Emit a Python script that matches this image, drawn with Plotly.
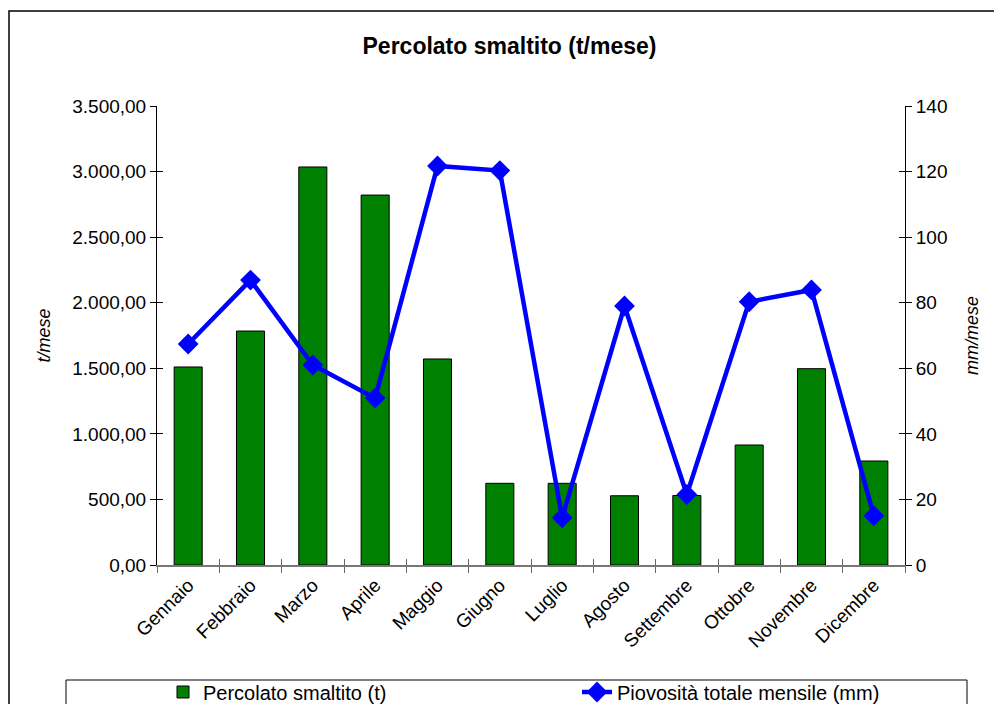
import plotly.graph_objects as go

months = ["Gennaio", "Febbraio", "Marzo", "Aprile", "Maggio", "Giugno",
          "Luglio", "Agosto", "Settembre", "Ottobre", "Novembre", "Dicembre"]
percolato = [1510, 1784, 3035, 2821, 1571, 623, 623, 528, 530, 915, 1497, 793]
piovosita = [67.4, 86.9, 61.0, 50.9, 121.7, 120.3, 14.4, 79.0, 21.5, 80.3, 83.9, 15.0]
left_range = [0, 3500]
right_range = [0, 140]

FONT = "Liberation Sans, Arial, sans-serif"

fig = go.Figure()
fig.add_trace(go.Bar(
    x=months, y=percolato, name="Percolato smaltito (t)",
    marker=dict(color="#008000", line=dict(color="black", width=1)),
    width=0.45, legend="legend",
))
fig.add_trace(go.Scatter(
    x=months, y=piovosita, name="Piovosità totale mensile (mm)", yaxis="y2",
    mode="lines+markers",
    line=dict(color="#0000FF", width=4.5),
    marker=dict(symbol="diamond", size=16, color="#0000FF"),
    legend="legend2",
))

n = len(months)
legend_common = dict(
    orientation="h", xref="container", yref="container",
    y=1 - 692/704, xanchor="left", yanchor="middle",
    font=dict(size=20, family=FONT), bgcolor="rgba(0,0,0,0)",
)
fig.update_layout(
    width=994, height=704,
    margin=dict(l=157, r=89, t=106, b=139),
    paper_bgcolor="white", plot_bgcolor="white",
    font=dict(family=FONT, size=19, color="black"),
    separators=",.",
    title=dict(text="<b>Percolato smaltito (t/mese)</b>", x=509.5/994, xanchor="center",
               y=1 - 46/704, yanchor="middle", font=dict(size=23, family=FONT)),
    xaxis=dict(
        type="category", tickangle=-45, tickson="boundaries",
        ticks="outside", ticklen=6, tickcolor="#666666",
        showline=True, linecolor="#777777", linewidth=1.5,
        showgrid=False, tickfont=dict(size=19, family=FONT),
        range=[-0.5, n - 0.5],
    ),
    xaxis2=dict(
        overlaying="x", type="linear", range=[-0.5, n - 0.5], tick0=-0.5, dtick=1,
        ticks="inside", ticklen=6, tickcolor="#666666", showticklabels=False,
        showline=False, showgrid=False, zeroline=False, side="bottom", anchor="y",
    ),
    yaxis=dict(
        range=left_range, dtick=500, tickformat=",.2f",
        ticks="outside", ticklen=6, tickcolor="black",
        showline=True, linecolor="black", linewidth=1,
        showgrid=False, zeroline=False,
        title=dict(text="<i>t/mese</i>", standoff=16, font=dict(size=18)),
    ),
    yaxis3=dict(
        range=left_range, dtick=500, overlaying="y", side="left", anchor="x",
        ticks="inside", ticklen=6, tickcolor="black", showticklabels=False,
        showline=False, showgrid=False, zeroline=False,
    ),
    yaxis2=dict(
        range=right_range, dtick=20, overlaying="y", side="right",
        ticks="outside", ticklen=6, tickcolor="black",
        showline=True, linecolor="black", linewidth=1,
        showgrid=False, zeroline=False,
        title=dict(text="<i>mm/mese</i>", standoff=18, font=dict(size=18)),
    ),
    yaxis4=dict(
        range=right_range, dtick=20, overlaying="y", side="right", anchor="x",
        ticks="inside", ticklen=6, tickcolor="black", showticklabels=False,
        showline=False, showgrid=False, zeroline=False,
    ),
    showlegend=True,
    legend=dict(x=163/994, **legend_common),
    legend2=dict(x=577/994, **legend_common),
    shapes=[
        dict(type="rect", xref="paper", yref="paper",
             x0=(9 - 157) / 748, x1=1.25, y0=-0.5, y1=(565 - 11) / 459,
             line=dict(color="black", width=1.5), layer="below"),
        dict(type="rect", xref="paper", yref="paper",
             x0=(66 - 157) / 748, x1=(967 - 157) / 748, y0=-0.5, y1=(565 - 680) / 459,
             line=dict(color="black", width=1), layer="below"),
    ],
)

# invisible helper traces so the tick-only overlay axes are drawn
fig.add_trace(go.Scatter(x=[None], y=[None], xaxis="x2", yaxis="y", showlegend=False, hoverinfo="skip"))
fig.add_trace(go.Scatter(x=[None], y=[None], xaxis="x", yaxis="y3", showlegend=False, hoverinfo="skip"))
fig.add_trace(go.Scatter(x=[None], y=[None], xaxis="x", yaxis="y4", showlegend=False, hoverinfo="skip"))

fig.write_html("out.html", config={"displayModeBar": False},
               post_script="document.body.style.margin='0';")
